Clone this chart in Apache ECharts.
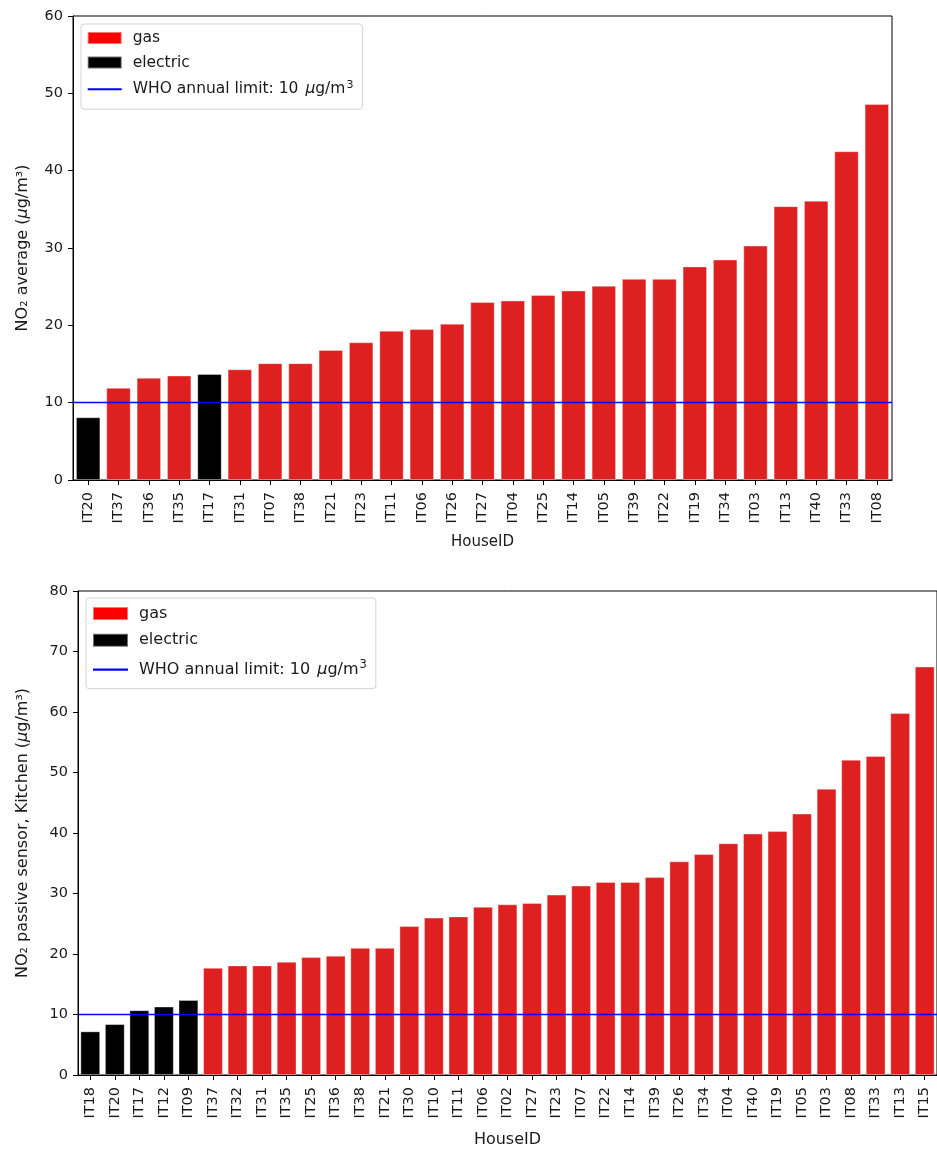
<!DOCTYPE html>
<html>
<head>
<meta charset="utf-8">
<script src="https://cdn.jsdelivr.net/npm/echarts@6/dist/echarts.min.js"></script>
<style>
  html, body { margin: 0; padding: 0; background: #ffffff; }
  #chart { width: 937px; height: 1149px; }
</style>
</head>
<body>
<div id="chart"></div>
<script>
// Mean NO2 per house, sorted ascending
const avgHouseIds = ['IT20','IT37','IT36','IT35','IT17','IT31','IT07','IT38','IT21','IT23','IT11','IT06','IT26','IT27','IT04','IT25','IT14','IT05','IT39','IT22','IT19','IT34','IT03','IT13','IT40','IT33','IT08'];
const avgValues = [8.1, 11.9, 13.2, 13.5, 13.7, 14.3, 15.1, 15.1, 16.8, 17.8, 19.3, 19.5, 20.2, 23.0, 23.2, 23.9, 24.5, 25.1, 26.0, 26.0, 27.6, 28.5, 30.3, 35.4, 36.1, 42.5, 48.6];
const avgElectric = ['IT20', 'IT17'];

// Kitchen passive sensor NO2 per house, sorted ascending
const kitchenHouseIds = ['IT18','IT20','IT17','IT12','IT09','IT37','IT32','IT31','IT35','IT25','IT36','IT38','IT21','IT30','IT10','IT11','IT06','IT02','IT27','IT23','IT07','IT22','IT14','IT39','IT26','IT34','IT04','IT40','IT19','IT05','IT03','IT08','IT33','IT13','IT15'];
const kitchenValues = [7.2, 8.4, 10.7, 11.3, 12.4, 17.7, 18.1, 18.1, 18.7, 19.5, 19.7, 21.0, 21.0, 24.6, 26.0, 26.2, 27.8, 28.2, 28.4, 29.8, 31.3, 31.9, 31.9, 32.7, 35.3, 36.5, 38.3, 39.9, 40.3, 43.2, 47.3, 52.1, 52.7, 59.8, 67.5];
const kitchenElectric = ['IT18', 'IT20', 'IT17', 'IT12', 'IT09'];

// Axis ranges
const avgAxis = { min: 0, max: 60, interval: 10 };
const kitchenAxis = { min: 0, max: 80, interval: 10 };

const whoLimit = 10;
const gasName = 'gas';
const electricName = 'electric';
const whoName = 'WHO annual limit: 10 μg/m³';

const FONT = 'DejaVu Sans';
const INK = '#1a1a1a';
const GAS_BAR = '#df2020';
const GAS_KEY = '#ff0000';
const ELEC = '#000000';
const WHO_BLUE = '#0000ff';

function split(ids, values, electric) {
  return {
    gas: values.map((v, i) => electric.includes(ids[i]) ? '-' : v),
    elec: values.map((v, i) => electric.includes(ids[i]) ? v : '-')
  };
}

const avgSplit = split(avgHouseIds, avgValues, avgElectric);
const kitchenSplit = split(kitchenHouseIds, kitchenValues, kitchenElectric);

function barSeries(name, data, color, idx) {
  return {
    name: name,
    type: 'bar',
    xAxisIndex: idx,
    yAxisIndex: idx,
    stack: 'houses' + idx,
    data: data,
    barCategoryGap: '20%',
    itemStyle: { color: color, borderColor: 'rgba(255,255,255,0.45)', borderWidth: 0.8 },
    emphasis: { disabled: true },
    z: 2
  };
}

function whoSeries(idx) {
  return {
    name: whoName,
    type: 'line',
    xAxisIndex: idx,
    yAxisIndex: idx,
    data: [],
    symbol: 'none',
    itemStyle: { color: WHO_BLUE },
    lineStyle: { color: WHO_BLUE, width: 2 },
    markLine: {
      silent: true,
      symbol: 'none',
      label: { show: false },
      lineStyle: { color: WHO_BLUE, width: 1.4, type: 'solid' },
      data: [{ yAxis: whoLimit }],
      z: 5
    }
  };
}

// Thin horizontal key for the limit line
const lineKey = 'path://M0 0H34V2H0Z';

function legendFor(left, top, size, iconW, iconH, gap, padding, whoLine, plainLine, supSize) {
  return {
    orient: 'vertical',
    left: left,
    top: top,
    itemWidth: iconW,
    itemHeight: iconH,
    itemGap: gap,
    padding: padding,
    borderColor: '#d4d4d4',
    borderWidth: 1,
    borderRadius: 3,
    backgroundColor: 'rgba(255,255,255,0.85)',
    selectedMode: false,
    data: [
      { name: gasName, icon: 'rect', itemStyle: { color: GAS_KEY } },
      { name: electricName, icon: 'rect', itemStyle: { color: ELEC } },
      { name: whoName, icon: lineKey, itemStyle: { color: WHO_BLUE, borderWidth: 0 } }
    ],
    formatter: function (name) {
      if (name === whoName) {
        return '{w|WHO annual limit: 10 }{wi|μ}{w|g/m}{sup|3}';
      }
      return '{n|' + name + '}';
    },
    textStyle: {
      color: INK,
      fontFamily: FONT,
      fontSize: size,
      padding: [0, 0, 0, 6],
      rich: {
        n: { fontSize: size, fontFamily: FONT, color: INK, lineHeight: plainLine },
        w: { fontSize: size, fontFamily: FONT, color: INK, lineHeight: whoLine },
        wi: { fontSize: size, fontFamily: FONT, color: INK, fontStyle: 'italic', lineHeight: whoLine, padding: [0, 0, 0, 2] },
        sup: { fontSize: supSize, fontFamily: FONT, color: INK, lineHeight: whoLine, padding: [0, 0, 9, 1] }
      }
    }
  };
}

function xAxisFor(idx, ids, nameGap, nameSize) {
  return {
    type: 'category',
    gridIndex: idx,
    data: ids,
    axisLine: { show: true, onZero: false, lineStyle: { color: '#000', width: 1 } },
    axisTick: { show: true, alignWithLabel: true, length: 5, lineStyle: { color: '#000' } },
    axisLabel: { interval: 0, rotate: 90, margin: 12, fontSize: 14.5, fontFamily: FONT, color: INK },
    splitLine: { show: false },
    name: 'HouseID',
    nameLocation: 'middle',
    nameGap: nameGap,
    nameTextStyle: { fontSize: nameSize, fontFamily: FONT, color: INK }
  };
}

function yAxisFor(idx, range, label, nameGap) {
  return {
    type: 'value',
    gridIndex: idx,
    min: range.min,
    max: range.max,
    interval: range.interval,
    axisLine: { show: true, lineStyle: { color: '#000', width: 1 } },
    axisTick: { show: true, length: 5, lineStyle: { color: '#000' } },
    axisLabel: { margin: 10, fontSize: 14.5, fontFamily: FONT, color: INK },
    splitLine: { show: false },
    name: label,
    nameLocation: 'middle',
    nameGap: nameGap,
    nameTextStyle: {
      rich: {
        a: { fontSize: 16, fontFamily: FONT, color: INK },
        i: { fontSize: 16, fontFamily: FONT, color: INK, fontStyle: 'italic' }
      }
    }
  };
}

const chart = echarts.init(document.getElementById('chart'), null, { renderer: 'canvas' });

chart.setOption({
  animation: false,
  backgroundColor: '#ffffff',
  textStyle: { fontFamily: FONT },
  grid: [
    { left: 73, top: 16, width: 819, height: 464, show: true, borderColor: '#000', borderWidth: 1, backgroundColor: 'transparent', containLabel: false },
    { left: 78, top: 591, width: 865, height: 489, show: true, borderColor: '#000', borderWidth: 1, backgroundColor: 'transparent', containLabel: false }
  ],
  legend: [
    legendFor(81, 24, 15.5, 34, 12, 8.6, [6, 9, 10, 5.7], 37, 14, 11),
    legendFor(86, 598, 16, 35, 13, 10.8, [7.5, 9, 8.5, 6], 38.6, 14.5, 11.5)
  ],
  xAxis: [
    xAxisFor(0, avgHouseIds, 55, 15),
    xAxisFor(1, kitchenHouseIds, 57, 16)
  ],
  yAxis: [
    yAxisFor(0, avgAxis, '{a|NO₂ average (}{i|μ}{a|g/m³)}', 42),
    yAxisFor(1, kitchenAxis, '{a|NO₂ passive sensor, Kitchen (}{i|μ}{a|g/m³)}', 47)
  ],
  series: [
    barSeries(gasName, avgSplit.gas, GAS_BAR, 0),
    barSeries(electricName, avgSplit.elec, ELEC, 0),
    whoSeries(0),
    barSeries(gasName, kitchenSplit.gas, GAS_BAR, 1),
    barSeries(electricName, kitchenSplit.elec, ELEC, 1),
    whoSeries(1)
  ]
});
</script>
</body>
</html>
